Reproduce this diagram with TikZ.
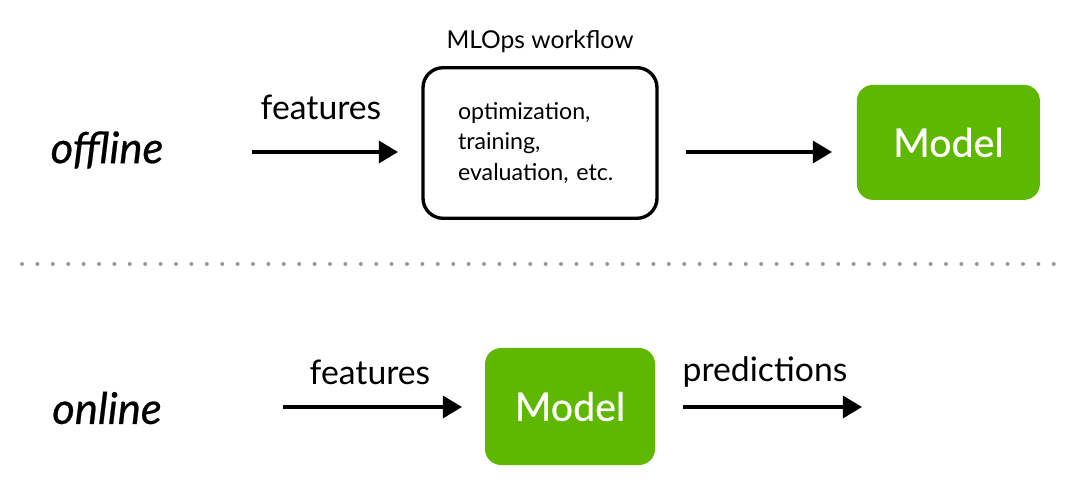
\documentclass[tikz,border=0pt]{standalone}
\usepackage{fontspec}
\setmainfont{Lato}
\newfontfamily\medfont[FakeBold=0.6]{Lato}
\usetikzlibrary{arrows.meta,positioning}
\definecolor{modelgreen}{RGB}{94,184,0}

\begin{document}
\begin{tikzpicture}[
    flow/.style={line width=2.6pt, -{Triangle[length=0.48cm, width=0.55cm]}},
    modelbox/.style={fill=modelgreen, rounded corners=0.4cm, text=white,
        font=\medfont\fontsize{28}{32}\selectfont},
    lbl/.style={font=\fontsize{24}{28}\selectfont},
    mode/.style={font=\medfont\itshape\fontsize{31}{35}\selectfont}
]
\useasboundingbox (0,0) rectangle (27,12.3);

% Offline row (y = 8.5)
\node[mode] (offline) at (2.675, 8.55) {offline};

\node[draw, line width=2.4pt, rounded corners=0.5cm,
      minimum width=5.85cm, minimum height=3.3cm, inner sep=0.875cm,
      text width=4.1cm, align=left,
      font=\fontsize{16.5}{21.5}\selectfont] (mlops) at (13.5, 8.725)
      {optimization,\\training,\\evaluation, etc.};
\node[font=\fontsize{17.5}{20}\selectfont] (mlopsT) at (13.5, 11.25) {MLOps workflow};

\node[modelbox, minimum width=4.575cm, minimum height=2.875cm] (modelA) at (23.71, 8.74) {Model};

\coordinate (fA) at (6.3, 8.5);
\coordinate (fAend) at (9.95, 8.5);
\coordinate (mA) at (17.15, 8.5);
\coordinate (mAend) at (20.8, 8.5);
\draw[flow] (fA) -- (fAend);
\draw[flow] (mA) -- (mAend);
\node[lbl] (featA) at (8.025, 9.625) {features};

% Separator (dots every 0.385cm)
\foreach \i in {0,...,67} {
  \fill[gray!80] (0.55+\i*0.385, 5.7) circle (0.05);
}

% Online row (y = 2.125)
\node[mode] (online) at (2.675, 2.1) {online};

\node[modelbox, minimum width=4.25cm, minimum height=2.925cm] (modelB) at (14.25, 2.1375) {Model};

\coordinate (fB) at (7.075, 2.125);
\coordinate (fBend) at (11.55, 2.125);
\coordinate (pB) at (17.075, 2.125);
\coordinate (pBend) at (21.55, 2.125);
\draw[flow] (fB) -- (fBend);
\draw[flow] (pB) -- (pBend);
\node[lbl] (featB) at (9.25, 3.0) {features};
\node[lbl] (pred) at (19.125, 3.0) {predictions};
\end{tikzpicture}
\end{document}
